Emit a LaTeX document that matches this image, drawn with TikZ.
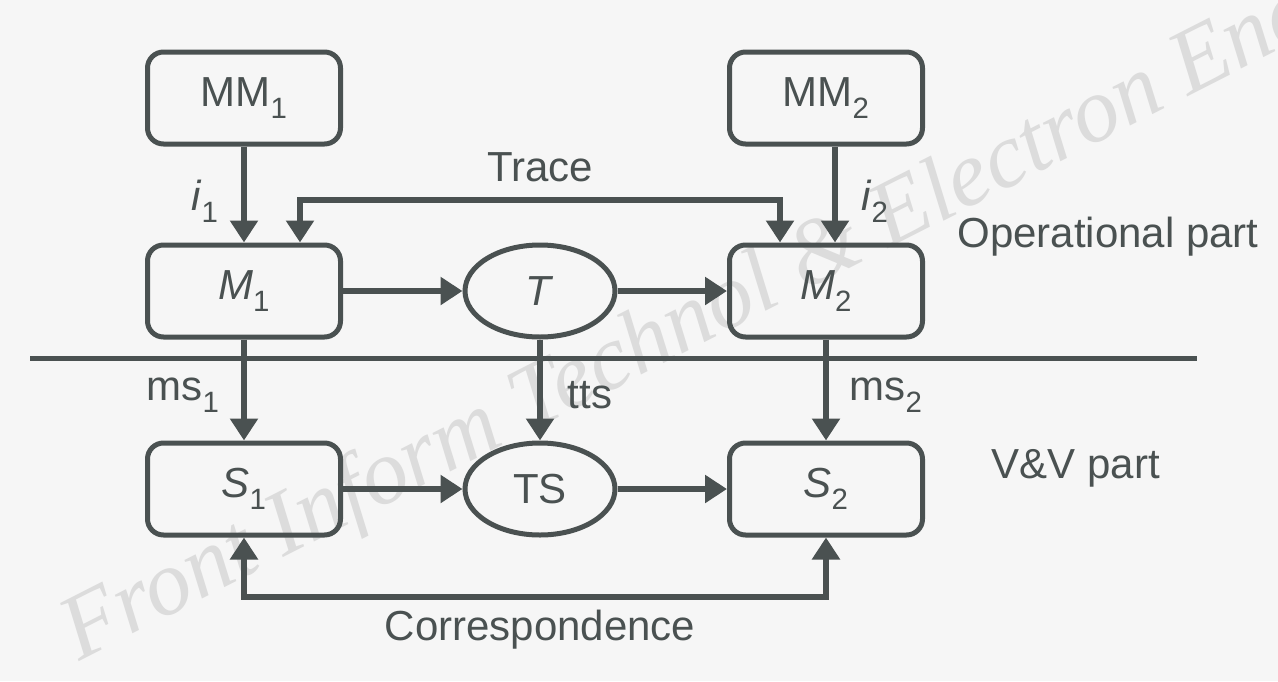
\documentclass[tikz,border=0pt]{standalone}
\usepackage{fontspec}
\setmainfont{Liberation Sans}
\newfontfamily\wmfont{Liberation Serif}
\usetikzlibrary{arrows.meta,positioning,shapes.geometric,calc}
\definecolor{lc}{RGB}{74,81,81}
\definecolor{bg}{RGB}{246,246,246}
\definecolor{wm}{RGB}{220,220,220}
\tikzset{
  box/.style={draw=lc, line width=5pt, rounded corners=16pt, minimum width=193pt, minimum height=92pt, text=lc, font=\fontsize{42}{48}\selectfont},
  oval/.style={draw=lc, line width=5pt, ellipse, minimum width=150pt, minimum height=92pt, text=lc, font=\fontsize{42}{48}\selectfont},
  arr/.style={draw=lc, line width=6pt, -{Triangle[length=22pt,width=27pt]}},
  both/.style={draw=lc, line width=6pt, {Triangle[length=22pt,width=27pt]}-{Triangle[length=22pt,width=27pt]}},
  lbl/.style={text=lc, font=\fontsize{42}{48}\selectfont, inner sep=0pt}
}
\begin{document}
\begin{tikzpicture}[x=1pt,y=-1pt]
\useasboundingbox (0,0) rectangle (1278,681);
\fill[bg] (0,0) rectangle (1278,681);
\node[text=wm, rotate=27, font=\wmfont\itshape\fontsize{92}{100}\selectfont] (wmark) at (690,325) {Front Inform Technol \& Electron Eng};
% nodes
\node[box] (MM1) at (244,98) {MM\textsubscript{1}};
\node[box] (M1) at (244,291) {\textit{M}\textsubscript{1}};
\node[box] (MM2) at (826,98) {MM\textsubscript{2}};
\node[box] (M2) at (826,291) {\textit{M}\textsubscript{2}};
\node[oval] (T) at (540,291) {\textit{T}};
\node[box] (S1) at (244,489) {\textit{S}\textsubscript{1}};
\node[oval] (TS) at (540,489) {TS};
\node[box] (S2) at (826,489) {\textit{S}\textsubscript{2}};
% separator
\coordinate (sepL) at (30,358);
\coordinate (sepR) at (1197,358);
\draw[lc, line width=5pt] (sepL) -- (sepR);
% connectors
\draw[arr] (MM1) -- (M1);
\draw[arr] ([xshift=9pt]MM2.south) -- ([xshift=9pt]M2.north);
\draw[both] ([xshift=56pt]M1.north) |- ++(0,-43) -| ([xshift=-46pt]M2.north);
\draw[arr] (M1) -- (T);
\draw[arr] (T) -- (M2);
\draw[arr] (M1) -- (S1);
\draw[arr] (T) -- (TS);
\draw[arr] (M2) -- (S2);
\draw[arr] (S1) -- (TS);
\draw[arr] (TS) -- (S2);
\draw[both] (S1.south) |- ++(0,59) -| (S2.south);
% labels
\node[lbl] (li1) at (205,201) {\textit{i}\textsubscript{1}};
\node[lbl] (li2) at (875,201) {\textit{i}\textsubscript{2}};
\node[lbl] (ltrace) at (540,167) {Trace};
\node[lbl] (lms1) at (183,395) {ms\textsubscript{1}};
\node[lbl] (ltts) at (590,395) {tts};
\node[lbl] (lms2) at (886,395) {ms\textsubscript{2}};
\node[lbl] (lcorr) at (540,630) {Correspondence};
\node[lbl] (lop) at (1108,237) {Operational part};
\node[lbl] (lvv) at (1076,468) {V\&V part};
\end{tikzpicture}
\end{document}
